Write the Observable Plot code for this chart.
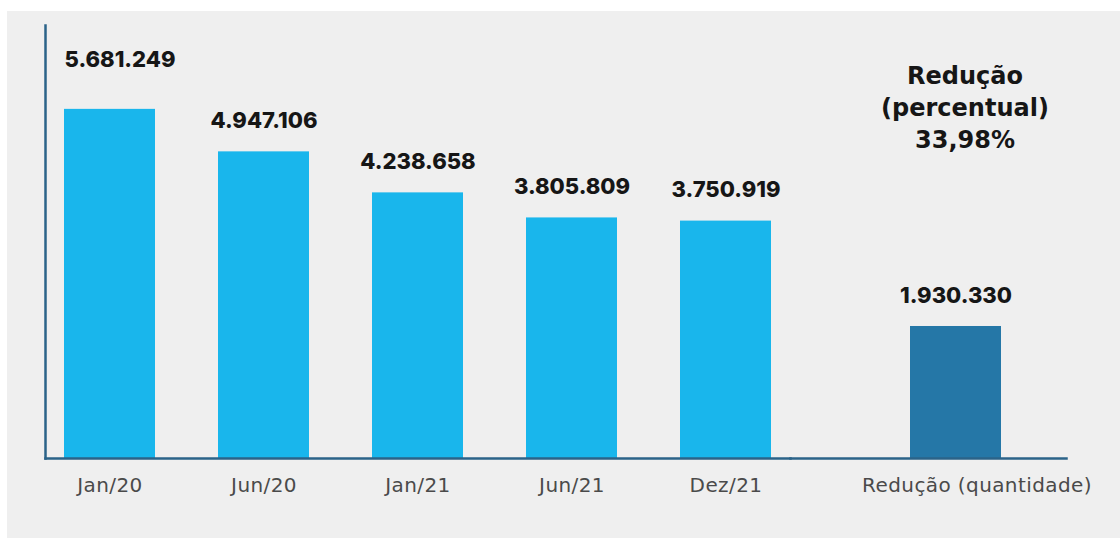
<!DOCTYPE html>
<html><head><meta charset="utf-8">
<script src="https://cdn.jsdelivr.net/npm/d3@7"></script>
<script src="https://cdn.jsdelivr.net/npm/@observablehq/plot@0.6"></script>
<style>
html,body{margin:0;padding:0;background:#fff;}
#panel{position:absolute;left:7px;top:11px;width:1113px;height:527px;background:#efefef;display:flex;}
#panel svg{display:block;}
</style></head><body><div id="panel"></div>
<script>
const periodos = ["Jan/20", "Jun/20", "Jan/21", "Jun/21", "Dez/21"];
const beneficiarios = [5681249, 4947106, 4238658, 3805809, 3750919];
const reducaoRotulo = "Redução (quantidade)";
const reducaoQuantidade = 1930330;
const reducaoPercentual = 33.98;
const yDominio = [-350000, 7130000];

const loc = d3.formatLocale({decimal: ",", thousands: ".", grouping: [3], currency: ["", ""]});
const fmt = loc.format(",d");
const pct = loc.format(".2f");

const serie = periodos.map((p, i) => ({periodo: p, valor: beneficiarios[i]}));
const reducao = [{periodo: reducaoRotulo, valor: reducaoQuantidade}];

const valStyle = {fontFamily: "Inter", fontWeight: 800, fontSize: 22, fill: "#161616", text: d => fmt(d.valor)};
const axisColor = "#2b6389";
const tickStyle = {tickSize: 0, tickPadding: 19, fontSize: 20, fontFamily: "DejaVu Sans", color: "#4a4a4a", label: null};
const common = {
  height: 527, marginTop: 14, marginBottom: 80,
  y: {domain: yDominio, axis: null},
  style: {background: "transparent", overflow: "visible"}
};

const p1 = Plot.plot({
  ...common, width: 783, marginLeft: 38, marginRight: 0,
  x: {domain: periodos, paddingInner: 0.41, paddingOuter: 0.117, axis: null},
  marks: [
    Plot.barY(serie, {x: "periodo", y1: yDominio[0], y2: "valor", fill: "#19b6ec"}),
    Plot.text(serie.slice(1), {x: "periodo", y: "valor", dy: -31, ...valStyle}),
    Plot.text(serie.slice(0, 1), {x: "periodo", y: "valor", dy: -49, dx: 10, ...valStyle}),
    Plot.axisX({...tickStyle}),
    Plot.frame({anchor: "left", stroke: axisColor, strokeWidth: 2.5}),
    Plot.frame({anchor: "bottom", stroke: axisColor, strokeWidth: 2.5})
  ]
});

const p2 = Plot.plot({
  ...common, width: 330, marginLeft: 0, marginRight: 54,
  x: {domain: [reducaoRotulo], paddingInner: 0.41, paddingOuter: 0.6, align: 0.649, axis: null},
  marks: [
    Plot.barY(reducao, {x: "periodo", y1: yDominio[0], y2: "valor", fill: "#2577a7"}),
    Plot.text(reducao, {x: "periodo", y: "valor", dy: -31, ...valStyle}),
    Plot.text([`Redução\n(percentual)\n${pct(reducaoPercentual)}%`], {
      x: () => reducaoRotulo, text: d => d, frameAnchor: "top", lineAnchor: "middle", dy: 80, dx: 9,
      lineHeight: 1.333, fontSize: 24, fontFamily: "DejaVu Sans", fontWeight: "bold", fill: "#161616"
    }),
    Plot.axisX({...tickStyle, dx: 21}),
    Plot.frame({anchor: "bottom", stroke: axisColor, strokeWidth: 2.5})
  ]
});

const panel = document.getElementById("panel");
panel.append(p1, p2);
for (const svg of [p1, p2]) {
  svg.querySelectorAll('[aria-label="x-axis tick label"]').forEach(g => g.setAttribute("letter-spacing", "0.4"));
}
</script></body></html>
